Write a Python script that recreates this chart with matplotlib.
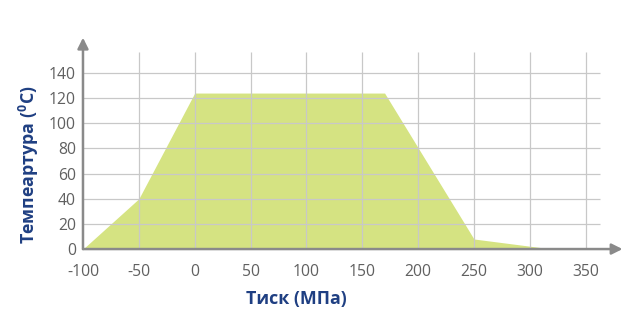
import matplotlib.pyplot as plt

plt.rcParams['font.family'] = ['Open Sans', 'DejaVu Sans']
plt.rcParams['mathtext.fontset'] = 'custom'
plt.rcParams['mathtext.rm'] = 'Open Sans:bold'
plt.rcParams['mathtext.bf'] = 'Open Sans:bold'
plt.rcParams['axes.unicode_minus'] = False

# pressure (MPa) vs temperature (C) outline of the working area
pressure = [-100, -50, 0, 170, 250, 320]
temperature = [0, 40, 124, 124, 8, 0]

x_ticks = [-100, -50, 0, 50, 100, 150, 200, 250, 300, 350]
y_ticks = [0, 20, 40, 60, 80, 100, 120, 140]

x_label = 'Тиск (МПа)'
y_label = r'Темпеартура ($\mathbf{^0}$C)'

fig = plt.figure(figsize=(6.23, 3.09), dpi=100)
ax = fig.add_axes([0.1332, 0.194, 0.866, 0.684])
ax.set_xlim(-100, 383)
ax.set_ylim(0, 168)

ax.fill_between(pressure, temperature, color='#d5e382', lw=0, zorder=1)

# grid
grid_col = '#c8c8c8'
ax.hlines(y_ticks[1:], -100, 363, color=grid_col, lw=0.9, zorder=2)
ax.vlines(x_ticks[1:], 0, 157, color=grid_col, lw=0.9, zorder=2)

# axes with arrows
axis_col = '#8a8a8a'
ax.annotate('', xy=(383, 0), xytext=(-100, 0),
            arrowprops=dict(arrowstyle='-|>', color=axis_col, lw=1.8,
                            mutation_scale=16, shrinkA=0, shrinkB=0), zorder=3)
ax.annotate('', xy=(-100, 168), xytext=(-100, 0),
            arrowprops=dict(arrowstyle='-|>', color=axis_col, lw=1.8,
                            mutation_scale=16, shrinkA=0, shrinkB=0), zorder=3)

for s in ax.spines.values():
    s.set_visible(False)

ax.set_xticks(x_ticks)
ax.set_yticks(y_ticks)
ax.tick_params(length=0, labelsize=11.3, colors='#606060')
ax.tick_params(axis='x', pad=11)
ax.tick_params(axis='y', pad=5)

ax.set_xlabel(x_label, fontsize=12.8, fontweight='bold', color='#1f3f82')
ax.set_ylabel(y_label, fontsize=12.8, fontweight='bold', color='#1f3f82')
ax.xaxis.set_label_coords(0.395, -0.195)
ax.yaxis.set_label_coords(-0.077, 0.40)

fig.savefig('out.png', dpi=100)
